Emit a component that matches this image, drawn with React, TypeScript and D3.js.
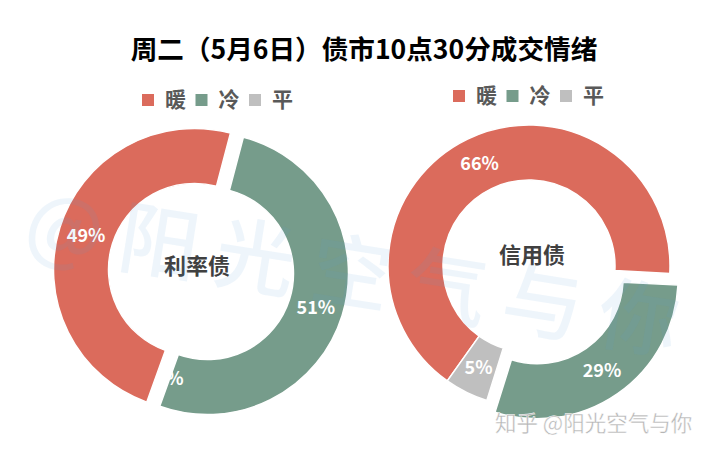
import * as d3 from "d3";

const categories = ["暖", "冷", "平"];
const rateValues = [48.6, 51.4, 0];
const creditValues = [66, 29, 5];
const colors = ["#db6b5c", "#769c8b", "#bfbfbf"];

const FONT = '"Noto Sans CJK SC", "Noto Sans", sans-serif';
const deg = Math.PI / 180;

function Donut({ values, name, cx, cy, start, explode, labelShift, labelX, labelY }: any) {
  const outer = 141;
  const inner = 86;
  const pie = d3.pie<number>().sort(null).startAngle(start * deg).endAngle((start + 360) * deg);
  const arc = d3.arc<any>().innerRadius(inner).outerRadius(outer);
  const slices = pie(values);

  return (
    <g>
      {slices.map((s, i) => {
        const mid = (s.startAngle + s.endAngle) / 2;
        const dx = Math.sin(mid) * explode[i];
        const dy = -Math.cos(mid) * explode[i];
        return (
          <path
            key={i}
            d={arc(s) as string}
            transform={`translate(${cx + dx},${cy + dy})`}
            fill={colors[i]}
            stroke="#fff"
            strokeWidth={1.5}
          />
        );
      })}
      {slices.map((s, i) => {
        const mid = (s.startAngle + s.endAngle) / 2;
        const [x, y] = arc.centroid(s);
        return (
          <text
            key={i}
            x={cx + x + Math.sin(mid) * explode[i] + labelShift[i]}
            y={cy + y - Math.cos(mid) * explode[i]}
            dy="0.35em"
            textAnchor="middle"
            fill="#fff"
            fontSize={18}
            fontWeight={700}
            fontFamily={FONT}
          >
            {d3.format(".0f")(s.data) + "%"}
          </text>
        );
      })}
      <text
        x={labelX}
        y={labelY}
        dy="0.35em"
        textAnchor="middle"
        fill="#404040"
        fontSize={22}
        fontWeight={700}
        fontFamily={FONT}
      >
        {name}
      </text>
    </g>
  );
}

function Legend({ x, y }: any) {
  const pos = d3.scalePoint<string>().domain(categories).range([x, x + 107]);
  return (
    <g>
      {categories.map((c, i) => (
        <g key={c} transform={`translate(${pos(c)},${y})`}>
          <rect x={0} y={-6} width={12} height={12} fill={colors[i]} />
          <text
            x={23}
            dy="0.35em"
            fill="#595959"
            fontSize={21}
            fontWeight={700}
            fontFamily={FONT}
          >
            {c}
          </text>
        </g>
      ))}
    </g>
  );
}

export default function App() {
  return (
    <svg width={710} height={454} style={{ position: "absolute", left: 0, top: 0, background: "#fff" }}>
      <text
        x={364}
        y={50}
        dy="0.35em"
        textAnchor="middle"
        fill="#000"
        fontSize={26.6}
        fontWeight={700}
        fontFamily={FONT}
      >
        周二（5月6日）债市10点30分成交情绪
      </text>

      <Legend x={142} y={100} />
      <Legend x={453} y={96} />

      <Donut
        values={rateValues}
        name="利率债"
        cx={201}
        cy={271.5}
        start={199.8}
        explode={[6.8, 6.8, 0]}
        labelShift={[0, 0, 7]}
        labelX={197}
        labelY={266}
      />
      <Donut
        values={creditValues}
        name="信用债"
        cx={529}
        cy={266}
        start={215.4}
        explode={[0, 14.3, 0]}
        labelShift={[0, 0, 0]}
        labelX={532}
        labelY={255}
      />

      {/* watermarks */}
      <text
        transform="translate(22,250) rotate(9)"
        fill="#5b9bd5"
        fillOpacity={0.1}
        fontSize={80}
        fontWeight={500}
        letterSpacing={17}
        fontFamily={FONT}
      >
        @阳光空气与你
      </text>
      <text
        x={495}
        y={431}
        fill="#b5b5b5"
        stroke="#fff"
        strokeWidth={0.4}
        fontSize={21.5}
        fontFamily={FONT}
      >
        知乎 @阳光空气与你
      </text>
    </svg>
  );
}
